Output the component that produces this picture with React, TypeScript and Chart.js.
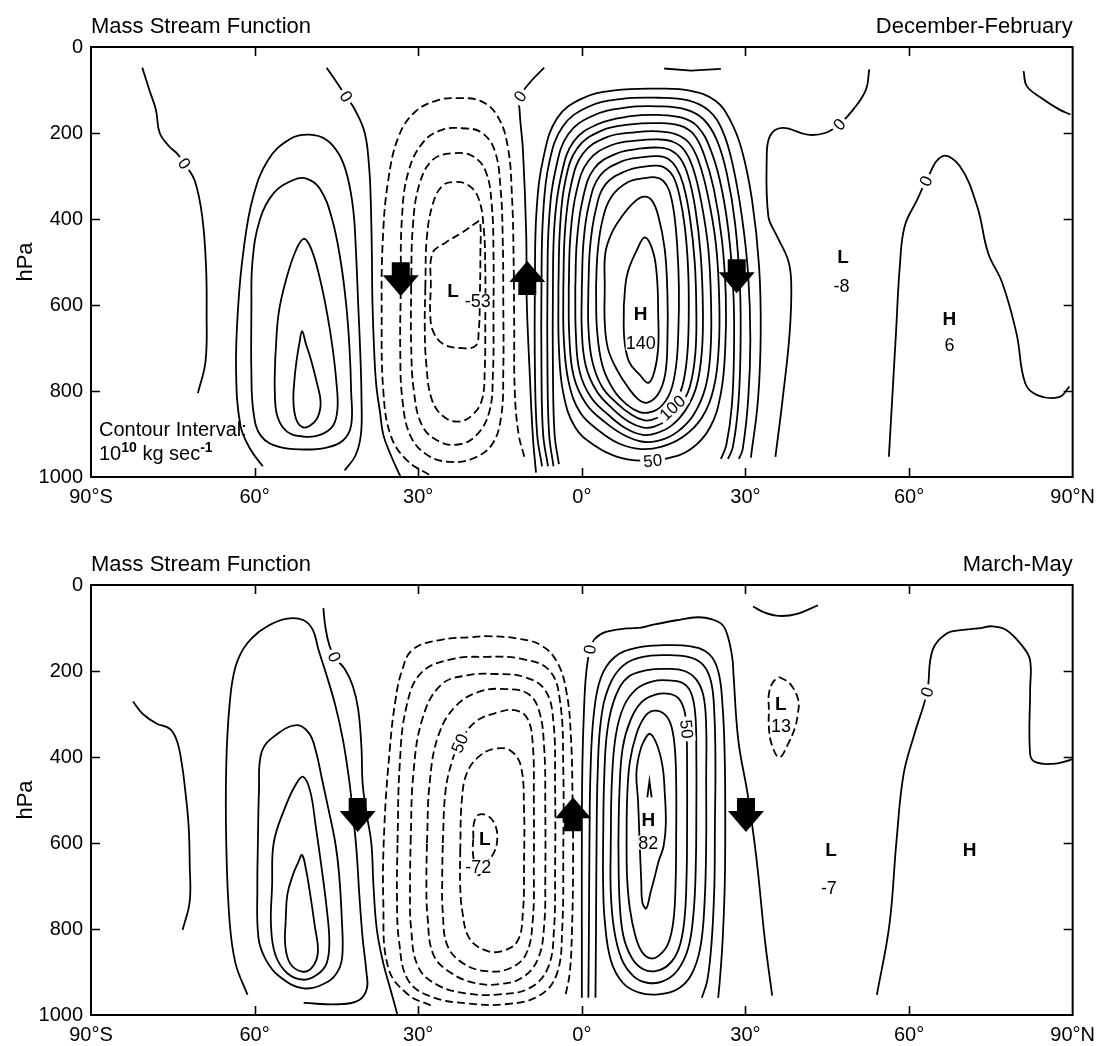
import React, { useEffect, useRef } from 'react';
import { Chart, registerables } from 'chart.js';
Chart.register(...registerables);

const FONT = '"Liberation Sans", Arial, Helvetica, sans-serif';

// ---------- axes ----------
const LAT_TICKS = [-90, -60, -30, 0, 30, 60, 90];
const LAT_TICK_LABELS = ['90°S', '60°', '30°', '0°', '30°', '60°', '90°N'];
const P_TICKS = [0, 200, 400, 600, 800, 1000];

// ---------- panel 1 : December-February ----------
const P1_TITLE = 'Mass Stream Function';
const P1_SEASON = 'December-February';

const P1_ZERO = [
  [[-80.6,48],[-79.3,100],[-78.1,146],[-77.4,200],[-75.6,232],[-74.2,248],[-72.9,271],[-71,310],[-69.6,395],[-68.9,513],[-68.8,620],[-69,731],[-70.4,805]],
  [[-46.8,48],[-44.8,85],[-43.2,115],[-41.6,146],[-39.8,200],[-39,280],[-38.7,360],[-38.5,480],[-38.4,590],[-38.1,700],[-37.7,785],[-37,850],[-36.4,902],[-35,950],[-33.3,998]],
  [[-6.9,48],[-9.2,78],[-11.3,115],[-11.4,150],[-10.8,240],[-10.2,434],[-10.1,590],[-9.6,746],[-9,902],[-8.4,990]],
  [[15.1,50],[20,55],[25.5,51]],
  [[52.7,52],[52.1,99],[49.8,145],[47.2,180],[44.6,200],[41.4,204],[36.8,188],[34.5,207],[33.9,262],[34.2,394],[35.5,433],[37.8,495],[38.4,549],[38.1,666],[36.8,821],[35.5,953]],
  [[56.3,953],[57.6,666],[58.3,511],[59.2,417],[61.5,355],[63.1,312],[66.1,254],[69.3,277],[72.5,371],[74.5,479],[77.1,549],[79.7,666],[81.3,782],[83.6,810],[87.5,814],[89.4,790]],
  [[81,56],[81.6,91],[84.2,118],[87.5,145],[89.6,157]],
];
const P1_ZERO_LEVELS = [0, 0, 0, 0, 0, 0, 0];
const P1_ZERO_CLOSED = [false, false, false, false, false, false, false];

const P1_SH = [
  [[-58.5,975],[-60.8,935],[-62.6,880],[-63.4,750],[-63,600],[-62,470],[-60.3,350],[-57.5,262],[-53.5,214],[-50,204],[-46.8,216],[-44.5,250],[-43,300],[-41.9,380],[-41.4,480],[-41,600],[-40.6,720],[-40.4,820],[-40.5,900],[-41.5,950],[-43.5,985]],
  [[-60.6,620],[-60.4,500],[-59,400],[-56.5,340],[-53,310],[-50.5,306],[-48,330],[-45.8,400],[-44.2,500],[-43.2,600],[-42.6,700],[-42.3,800],[-42.3,880],[-43.8,915],[-47,932],[-51,936],[-55.5,930],[-58.8,905],[-60.2,850],[-60.6,750]],
  [[-56.2,720],[-55.6,620],[-54.2,540],[-52.5,475],[-51,446],[-49.6,470],[-48,540],[-46.7,620],[-45.7,700],[-45,780],[-44.8,840],[-45.6,880],[-48,902],[-51,906],[-54,895],[-55.8,860],[-56.3,800]],
  [[-52.6,760],[-52.2,720],[-51.8,690],[-51.3,661],[-50.6,690],[-49.6,730],[-48.6,780],[-47.9,825],[-48.4,860],[-49.8,880],[-51.2,884],[-52.4,865],[-52.9,820]],
];
const P1_SH_LEVELS = [10, 20, 30, 40];
const P1_SH_CLOSED = [false, true, true, true];

const P1_NEG = [
  [[-28,995],[-32,962],[-35,905],[-36.4,800],[-36.7,620],[-36.5,450],[-35.5,310],[-33.5,205],[-30.5,150],[-26.5,124],[-22.5,119],[-18.5,126],[-15.5,160],[-13.6,230],[-12.8,350],[-12.5,500],[-12.4,650],[-12.3,800],[-11.6,900],[-10.5,955]],
  [[-33.2,560],[-33,400],[-31.8,290],[-29,220],[-25.5,192],[-22,189],[-18.5,198],[-16,240],[-14.9,330],[-14.5,450],[-14.4,600],[-14.4,750],[-14.8,860],[-16.5,925],[-20,957],[-24,965],[-28.2,950],[-31.4,905],[-32.9,820],[-33.3,700]],
  [[-31.3,560],[-31,420],[-29.8,320],[-27.3,262],[-23.5,247],[-20,254],[-17.6,290],[-16.5,370],[-16.2,480],[-16.2,620],[-16.3,760],[-17,850],[-19.5,905],[-23,925],[-26.5,915],[-29.3,880],[-30.8,800],[-31.3,690]],
  [[-28.7,560],[-28.4,440],[-27.2,360],[-25.5,322],[-23.5,314],[-21,320],[-19,350],[-18,420],[-17.7,520],[-17.7,640],[-17.8,750],[-18.3,820],[-20,855],[-22.5,871],[-25.3,860],[-27.5,820],[-28.5,740],[-28.8,650]],
  [[-27.7,560],[-27.4,480],[-25,455],[-22,432],[-19.5,410],[-18.7,405],[-18.6,480],[-18.7,580],[-18.9,660],[-19.5,695],[-22.3,700],[-25.5,690],[-27.3,660],[-27.8,620]],
];
const P1_NEG_LEVELS = [-10, -20, -30, -40, -50];
const P1_NEG_CLOSED = [false, true, true, true, true];

const P1_HAD = [
  [[-7.3,975],[-8.2,900],[-8.6,750],[-8.6,550],[-8.3,380],[-7,255],[-4.5,165],[0,120],[6,101],[14,97],[20,102],[24.5,125],[27.2,170],[29.3,238],[31.2,355],[32.5,510],[32.8,666],[32.3,821],[31,955]],
  [[-6.2,975],[-7.1,900],[-7.4,750],[-7.4,550],[-7.1,390],[-6,270],[-3.5,185],[1,140],[7,121],[14,118],[19.5,124],[23.3,148],[25.8,195],[27.6,270],[29.3,390],[30.5,530],[30.9,680],[30.5,820],[29.5,935],[28.8,958]],
  [[-5.2,975],[-6,900],[-6.3,750],[-6.3,550],[-6,400],[-4.8,285],[-2.5,203],[2,160],[8,141],[14,138],[19,145],[22.3,168],[24.7,215],[26.6,295],[28.1,410],[29,560],[29.1,700],[28.7,830],[27.7,930],[26.8,958]],
  [[-4.2,970],[-5,900],[-5.3,750],[-5.3,560],[-5,410],[-3.8,300],[-1.5,220],[3,179],[9,161],[14,158],[18.5,165],[21.3,186],[23.5,235],[25.4,315],[26.9,430],[27.8,575],[27.9,710],[27.5,835],[26.5,925],[25.5,958]],
  [[-4.3,560],[-4,420],[-3,310],[-0.8,235],[3.5,195],[9,180],[14,177],[18,183],[20.5,203],[22.4,250],[24.2,330],[25.7,450],[26.4,580],[26.3,700],[25.5,805],[23.5,885],[20,935],[15.5,957],[11,962],[6.5,953],[2.5,928],[-1.2,885],[-3.4,805],[-4.2,700]],
  [[-3.4,560],[-3.1,430],[-2,322],[0.2,248],[4.5,210],[10,198],[14,196],[17.3,203],[19.6,222],[21.4,265],[23.1,345],[24.6,460],[25.2,590],[25.1,700],[24.2,792],[22,862],[18.5,907],[14.5,930],[10.8,935],[6.8,922],[3.2,893],[-0.3,850],[-2.4,780],[-3.3,680]],
  [[-2.4,560],[-2.1,440],[-1,337],[1.2,265],[5.5,228],[10.5,217],[14,215],[16.8,221],[18.8,240],[20.4,282],[21.9,360],[23.2,470],[23.7,600],[23.6,705],[22.7,790],[20.5,855],[17.5,895],[14.3,915],[11.2,918],[7.8,903],[4.3,873],[0.8,830],[-1.5,765],[-2.3,670]],
  [[-1.2,560],[-0.9,450],[0.2,352],[2.3,282],[6.5,247],[11,236],[14,234],[16.3,240],[18.1,260],[19.5,300],[20.8,375],[21.8,485],[22.2,610],[22,710],[21,790],[19,845],[16.5,880],[13.7,898],[11.2,902],[8.2,888],[5,857],[1.7,815],[-0.4,755],[-1.1,665]],
  [[0,560],[0.3,455],[1.3,367],[3.3,300],[7.3,266],[11.3,256],[14,254],[15.8,260],[17.3,280],[18.6,320],[19.8,395],[20.7,500],[21,620],[20.8,715],[19.8,790],[18,837],[15.8,866],[13.3,883],[11.3,885],[8.7,872],[5.7,842],[2.7,800],[0.7,740],[0,660]],
  [[1.2,560],[1.5,467],[2.5,382],[4.3,320],[8,289],[11.5,278],[14,276],[15.5,283],[16.8,302],[17.9,345],[18.9,420],[19.5,520],[19.6,630],[19.3,720],[18.4,790],[16.8,832],[14.8,856],[12.8,867],[11.3,868],[9.2,856],[6.4,828],[3.7,790],[1.9,730],[1.2,650]],
  [[2.6,560],[2.9,477],[3.8,402],[5.5,347],[8.5,314],[11.5,305],[13.5,303],[14.9,311],[16,333],[16.9,385],[17.5,465],[17.8,560],[17.7,660],[17.3,740],[16.3,800],[14.6,835],[12.6,849],[10.6,849],[8.2,831],[5.8,797],[3.8,742],[2.8,660]],
  [[4.2,560],[4.3,480],[5.5,432],[7.3,395],[9.5,362],[11.3,348],[12.8,356],[14,392],[15.2,470],[15.7,577],[15.7,680],[15.3,760],[14,807],[12,827],[10.4,820],[8.5,792],[6.5,752],[4.8,702],[4.2,640]],
  [[7.7,600],[8.3,530],[10.1,472],[11.6,443],[13.1,478],[13.8,540],[14,620],[14,700],[13.3,755],[12.2,781],[10.6,762],[8.7,733],[7.8,680]],
];
const P1_HAD_LEVELS = [10, 20, 30, 40, 50, 60, 70, 80, 90, 100, 110, 120, 130];
const P1_HAD_CLOSED = [false, false, false, false, true, true, true, true, true, true, true, true, true];

const P1_CLABEL_TEXT = ['0', '0', '0', '0', '0', '50', '100'];
const P1_CLABEL_LAT = [-72.9, -43.2, -11.3, 47.2, 63.1, 13, 16.6];
const P1_CLABEL_P = [271, 115, 115, 180, 312, 962, 839];

const P1_MARK_TEXT = ['L', '-53', 'H', '140', 'L', '-8', 'H', '6'];
const P1_MARK_LAT = [-23.6, -19.1, 10.8, 10.8, 47.9, 47.6, 67.4, 67.4];
const P1_MARK_P = [567, 590, 620, 689, 487, 557, 631, 693];
const P1_MARK_BOLD = [true, false, true, false, true, false, true, false];

const P1_ARROW_LAT = [-33.2, -10, 28.4];
const P1_ARROW_P = [540, 537, 533];
const P1_ARROW_UP = [false, true, false];

// ---------- panel 2 : March-May ----------
const P2_TITLE = 'Mass Stream Function';
const P2_SEASON = 'March-May';

const P2_ZERO = [
  [[-82.3,271],[-80.5,300],[-78,322],[-75.5,335],[-74.2,364],[-73.3,420],[-72.7,480],[-72.1,560],[-71.9,650],[-71.9,736],[-73.2,802]],
  [[-47.4,54],[-47,100],[-46.3,140],[-45.4,167],[-43.5,195],[-42,235],[-41,290],[-40.4,380],[-40.2,460],[-39.5,530],[-38.6,600],[-38.2,700],[-37.6,800],[-36.4,880],[-35.1,940],[-33.8,1000]],
  [[0,960],[0,800],[0,600],[0.1,420],[0.4,290],[0.8,205],[1.5,150],[2.4,125],[4.4,109],[8.3,101],[10.9,99],[12.9,93],[17.4,82],[21.3,75],[23.9,80],[25.8,93],[26.8,121],[27.6,170],[27.8,206],[28.7,362],[30.4,486],[32,634],[33.6,829],[34.9,955]],
  [[31.4,50],[33.5,64],[36.2,72],[39.5,67],[43.3,47]],
  [[54.1,953],[56.4,790],[57.7,595],[59,440],[61,346],[63.3,249],[64.3,152],[66.9,113],[69.5,105],[72.7,101],[75.3,96],[77.9,105],[80.9,144],[82.2,175],[82.2,245],[82.2,393],[83.2,412],[86.4,416],[89,409],[89.9,405]],
];
const P2_ZERO_LEVELS = [0, 0, 0, 0, 0];
const P2_ZERO_CLOSED = [false, false, false, false, false];

const P2_SH = [
  [[-61.3,953],[-63.5,880],[-64.6,780],[-65.2,600],[-65.2,420],[-64.6,280],[-63.5,190],[-61.3,135],[-57.5,95],[-54,78],[-51,82],[-49.3,105],[-48.3,150],[-46.8,210],[-45.2,280],[-43.8,360],[-42.7,450],[-41.9,540],[-41.3,620],[-40.8,720],[-40.2,820],[-39.5,900],[-39.4,938],[-40.8,965],[-44.5,975],[-51,972]],
  [[-59.4,600],[-59.2,480],[-58.7,388],[-56.1,349],[-52.3,326],[-50,345],[-48.8,385],[-47.5,460],[-46.5,519],[-45.2,600],[-44.5,674],[-44,780],[-43.9,860],[-44.6,895],[-46.5,922],[-51,938],[-55.5,910],[-58,870],[-59.3,820],[-59.5,700]],
  [[-56.8,700],[-56.5,600],[-54.5,520],[-52.5,465],[-51.1,446],[-49.8,480],[-48.8,560],[-47.8,650],[-46.8,750],[-46.3,830],[-46.8,880],[-48.5,906],[-51,918],[-54,903],[-56.2,860],[-57,790]],
  [[-54.3,780],[-54,720],[-53,675],[-52,645],[-51.3,628],[-50.6,660],[-49.8,720],[-49,790],[-48.4,855],[-49.5,890],[-51.3,899],[-53.5,880],[-54.4,835]],
];
const P2_SH_LEVELS = [10, 20, 30, 40];
const P2_SH_CLOSED = [false, true, true, true];

const P2_NEG = [
  [[-27.7,978],[-31.9,952],[-35.5,890],[-36.4,737],[-36.2,560],[-35.2,380],[-34.2,270],[-33,200],[-31,150],[-26,128],[-20,121],[-17.5,119],[-12,124],[-7.5,140],[-4.5,180],[-2.8,250],[-2,353],[-1.7,500],[-1.6,650],[-1.8,800],[-2.2,900],[-3,955]],
  [[-33.8,600],[-33.4,420],[-32.2,285],[-29.5,205],[-24,173],[-17.5,167],[-11,172],[-6,198],[-4,270],[-3.4,430],[-3.4,620],[-3.6,800],[-4.6,905],[-7.8,955],[-14,975],[-21,973],[-27.5,958],[-31.8,920],[-33.5,830],[-33.9,720]],
  [[-31.4,600],[-30.9,440],[-29.2,310],[-25.8,232],[-21,210],[-15.7,207],[-10.5,214],[-6.7,245],[-5.2,320],[-4.9,470],[-4.9,660],[-5.1,800],[-6.2,890],[-9.5,937],[-15,952],[-21,950],[-26.5,930],[-30,888],[-31.3,800],[-31.5,700]],
  [[-28.4,600],[-27.9,460],[-26.3,350],[-23,280],[-18.5,247],[-14,242],[-10,252],[-7.9,290],[-6.9,380],[-6.7,520],[-6.7,680],[-6.9,790],[-8,868],[-10.8,912],[-15,928],[-19.5,926],[-24,902],[-27.2,860],[-28.3,770],[-28.5,690]],
  [[-25.5,600],[-25,480],[-23.8,410],[-22.4,368],[-19.5,318],[-15.5,297],[-12.3,291],[-10,310],[-9,370],[-8.8,500],[-8.8,650],[-9,780],[-10.3,860],[-13.5,893],[-17.5,898],[-21.5,882],[-24.6,840],[-25.5,760],[-25.6,680]],
  [[-22.3,620],[-22,500],[-21,435],[-18.5,395],[-15.5,380],[-13,386],[-11.2,420],[-10.6,520],[-10.6,650],[-10.8,760],[-11.8,828],[-14.8,852],[-18,848],[-20.7,820],[-21.9,760],[-22.3,700]],
  [[-19.9,590],[-19.8,555],[-19,535],[-17.2,537],[-15.9,558],[-15.5,590],[-16.1,622],[-17.6,648],[-18.9,675],[-19.6,650],[-20,620]],
  [[36.2,214],[38.2,230],[39.7,268],[39.6,300],[39.1,331],[37.8,370],[36.2,401],[34.8,370],[34.3,331],[34.3,290],[34.3,253],[35.1,225]],
];
const P2_NEG_LEVELS = [-10, -20, -30, -40, -50, -60, -70, -10];
const P2_NEG_CLOSED = [false, true, true, true, true, true, true, true];

const P2_HAD = [
  [[1.2,960],[1.3,800],[1.4,600],[1.6,430],[2.2,300],[3.5,215],[6,168],[10,146],[15,140],[20,143],[23.3,160],[25,200],[25.8,280],[26.2,400],[26.3,560],[26.2,700],[25.8,830],[25.3,920],[25,960]],
  [[2.5,960],[2.6,800],[2.7,600],[2.9,440],[3.5,315],[5,235],[7.5,188],[11,168],[15,163],[19.5,167],[22.2,185],[23.7,225],[24.3,300],[24.5,420],[24.4,560],[24.3,700],[23.8,830],[23,920],[22,960]],
  [[3.9,600],[4.1,450],[4.7,335],[6.2,258],[8.5,214],[12,198],[15.5,195],[18.8,200],[21,220],[22.3,258],[22.8,330],[22.8,450],[22.8,600],[22.5,740],[21.7,845],[20,908],[17.5,940],[14,952],[10.5,948],[7.5,925],[5.3,872],[4.2,780],[3.9,690]],
  [[5.3,600],[5.5,460],[6.2,352],[7.7,282],[10,242],[13,224],[16,222],[18.5,228],[20,250],[20.8,300],[21,400],[21,520],[20.9,650],[20.5,760],[19.5,845],[17.5,897],[14.8,922],[12,925],[9.5,910],[7.3,870],[5.9,800],[5.3,710]],
  [[6.7,600],[6.9,480],[7.5,378],[9,312],[11,272],[13.5,255],[16,253],[17.7,263],[18.8,292],[19.2,340],[19.3,440],[19.3,560],[19.2,680],[18.8,780],[17.8,845],[16,882],[13.5,898],[11.2,893],[9.2,868],[7.6,815],[6.9,730]],
  [[8.2,600],[8.3,500],[8.8,412],[10,347],[11.5,307],[13,293],[14.8,297],[16.2,320],[17,372],[17.3,460],[17.3,580],[17.2,690],[16.8,780],[15.8,835],[14,863],[12.5,868],[11,853],[9.8,815],[8.8,752],[8.3,680]],
  [[10.6,600],[10.3,500],[10,440],[10.5,395],[11.3,365],[12.5,346],[13.8,372],[14.8,422],[15.2,482],[15.4,556],[15,607],[14.1,642],[13.3,682],[12.6,715],[11.8,752],[11.1,738],[10.9,690]],
  [[12.0,494],[12.4,456],[12.8,494]],
];
const P2_HAD_LEVELS = [10, 20, 30, 40, 50, 60, 70, 80];
const P2_HAD_CLOSED = [false, false, true, true, true, true, true, false];

const P2_CLABEL_TEXT = ['0', '0', '0', '50', '50'];
const P2_CLABEL_LAT = [-45.4, 1.5, 63.3, -22.4, 19.2];
const P2_CLABEL_P = [167, 150, 249, 368, 335];

const P2_MARK_TEXT = ['L', '-72', 'H', '82', 'L', '13', 'L', '-7', 'H'];
const P2_MARK_LAT = [-17.8, -19, 12.2, 12.2, 36.5, 36.5, 45.7, 45.3, 71.1];
const P2_MARK_P = [591, 656, 545, 599, 276, 327, 615, 704, 615];
const P2_MARK_BOLD = [true, false, true, false, true, false, true, false, true];

const P2_ARROW_LAT = [-41.1, -1.6, 30.1];
const P2_ARROW_P = [535, 533, 535];
const P2_ARROW_UP = [false, true, false];

const NOTE_LINE1 = 'Contour Interval:';
const NOTE_BASE = '10';
const NOTE_EXP = '10';
const NOTE_UNIT = ' kg sec';
const NOTE_UNIT_EXP = '-1';

// ---------- helpers ----------
type Group = { contours: number[][][]; levels: number[]; closed: boolean[] };

function makeDatasets(groups: Group[]) {
  const out: any[] = [];
  groups.forEach((g) => {
    g.contours.forEach((c, i) => {
      const pts = g.closed[i] ? [...c, c[0]] : c;
      out.push({
        data: pts.map(([x, y]) => ({ x, y })),
        showLine: true,
        borderColor: '#000',
        borderWidth: 1.8,
        borderDash: g.levels[i] < 0 ? [8, 4] : [],
        pointRadius: 0,
        pointHoverRadius: 0,
        pointHitRadius: 0,
        tension: pts.length > 3 ? 0.4 : 0,
        fill: false,
      });
    });
  });
  return out;
}

function nearestAngle(chart: any, px: number, py: number) {
  const { x, y } = chart.scales;
  let best = Infinity;
  let ang = 0;
  chart.data.datasets.forEach((ds: any) => {
    const d = ds.data;
    for (let i = 0; i < d.length - 1; i++) {
      const x1 = x.getPixelForValue(d[i].x), y1 = y.getPixelForValue(d[i].y);
      const x2 = x.getPixelForValue(d[i + 1].x), y2 = y.getPixelForValue(d[i + 1].y);
      const dx = x2 - x1, dy = y2 - y1;
      const l2 = dx * dx + dy * dy || 1;
      let t = ((px - x1) * dx + (py - y1) * dy) / l2;
      t = Math.max(0, Math.min(1, t));
      const qx = x1 + t * dx - px, qy = y1 + t * dy - py;
      const dist = qx * qx + qy * qy;
      if (dist < best) { best = dist; ang = Math.atan2(dy, dx); }
    }
  });
  if (ang > Math.PI / 2) ang -= Math.PI;
  if (ang < -Math.PI / 2) ang += Math.PI;
  return ang;
}

function drawArrow(ctx: CanvasRenderingContext2D, cx: number, cy: number, up: boolean) {
  ctx.save();
  ctx.translate(cx, cy);
  if (!up) ctx.scale(1, -1);
  ctx.beginPath();
  ctx.moveTo(0, -17);
  ctx.lineTo(18, 4);
  ctx.lineTo(9, 4);
  ctx.lineTo(9, 17);
  ctx.lineTo(-9, 17);
  ctx.lineTo(-9, 4);
  ctx.lineTo(-18, 4);
  ctx.closePath();
  ctx.fillStyle = '#000';
  ctx.fill();
  ctx.restore();
}

type Panel = {
  title: string; season: string; groups: Group[];
  clText: string[]; clLat: number[]; clP: number[];
  mText: string[]; mLat: number[]; mP: number[]; mBold: boolean[];
  aLat: number[]; aP: number[]; aUp: boolean[]; note: boolean;
};

function decorPlugin(panel: Panel) {
  return {
    id: 'decor',
    afterDatasetsDraw(chart: any) {
      const ctx: CanvasRenderingContext2D = chart.ctx;
      const a = chart.chartArea;
      const { x, y } = chart.scales;
      ctx.save();
      // contour labels
      panel.clText.forEach((t, i) => {
        const px = x.getPixelForValue(panel.clLat[i]);
        const py = y.getPixelForValue(panel.clP[i]);
        const ang = nearestAngle(chart, px, py);
        ctx.save();
        ctx.translate(px, py);
        ctx.rotate(ang);
        ctx.font = `17px ${FONT}`;
        const w = ctx.measureText(t).width;
        ctx.fillStyle = '#fff';
        ctx.fillRect(-w / 2 - 3, -8, w + 6, 16);
        ctx.fillStyle = '#000';
        ctx.textAlign = 'center';
        ctx.textBaseline = 'middle';
        ctx.fillText(t, 0, 1);
        ctx.restore();
      });
      // H / L marks
      panel.mText.forEach((t, i) => {
        const px = x.getPixelForValue(panel.mLat[i]);
        const py = y.getPixelForValue(panel.mP[i]);
        ctx.font = panel.mBold[i] ? `bold 19px ${FONT}` : `18px ${FONT}`;
        ctx.textAlign = 'center';
        ctx.textBaseline = 'middle';
        if (!panel.mBold[i]) {
          const w = ctx.measureText(t).width;
          ctx.fillStyle = '#fff';
          ctx.fillRect(px - w / 2, py - 7, w, 14);
        }
        ctx.fillStyle = '#000';
        ctx.fillText(t, px, py + 1);
      });
      // arrows
      panel.aLat.forEach((lat, i) => {
        drawArrow(ctx, x.getPixelForValue(lat), y.getPixelForValue(panel.aP[i]), panel.aUp[i]);
      });
      // frame and inward ticks
      ctx.strokeStyle = '#000';
      ctx.lineWidth = 2;
      ctx.strokeRect(a.left, a.top, a.right - a.left, a.bottom - a.top);
      ctx.lineWidth = 1.6;
      ctx.beginPath();
      LAT_TICKS.slice(1, -1).forEach((v) => {
        const px = Math.round(x.getPixelForValue(v)) + 0.5;
        ctx.moveTo(px, a.bottom); ctx.lineTo(px, a.bottom - 9);
        ctx.moveTo(px, a.top); ctx.lineTo(px, a.top + 9);
      });
      P_TICKS.slice(1, -1).forEach((v) => {
        const py = Math.round(y.getPixelForValue(v)) + 0.5;
        ctx.moveTo(a.left, py); ctx.lineTo(a.left + 9, py);
        ctx.moveTo(a.right, py); ctx.lineTo(a.right - 9, py);
      });
      ctx.stroke();
      // titles
      ctx.fillStyle = '#000';
      ctx.font = `22px ${FONT}`;
      ctx.textBaseline = 'alphabetic';
      ctx.textAlign = 'left';
      ctx.fillText(panel.title, a.left, a.top - 14);
      ctx.textAlign = 'right';
      ctx.fillText(panel.season, a.right, a.top - 14);
      // hPa
      ctx.save();
      ctx.translate(26, (a.top + a.bottom) / 2);
      ctx.rotate(-Math.PI / 2);
      ctx.textAlign = 'center';
      ctx.textBaseline = 'middle';
      ctx.font = `22px ${FONT}`;
      ctx.fillText('hPa', 0, 0);
      ctx.restore();
      // note
      if (panel.note) {
        const x0 = a.left + 8;
        const b1 = a.bottom - 41;
        const b2 = a.bottom - 17;
        ctx.textAlign = 'left';
        ctx.textBaseline = 'alphabetic';
        ctx.font = `20px ${FONT}`;
        ctx.fillText(NOTE_LINE1, x0, b1);
        let cx = x0;
        ctx.fillText(NOTE_BASE, cx, b2);
        cx += ctx.measureText(NOTE_BASE).width;
        ctx.font = `bold 14px ${FONT}`;
        ctx.fillText(NOTE_EXP, cx, b2 - 8);
        cx += ctx.measureText(NOTE_EXP).width;
        ctx.font = `20px ${FONT}`;
        ctx.fillText(NOTE_UNIT, cx, b2);
        cx += ctx.measureText(NOTE_UNIT).width;
        ctx.font = `bold 14px ${FONT}`;
        ctx.fillText(NOTE_UNIT_EXP, cx, b2 - 8);
      }
      ctx.restore();
    },
  };
}

function PanelChart({ panel, height, padBottom }: { panel: Panel; height: number; padBottom: number }) {
  const ref = useRef<HTMLCanvasElement>(null);
  useEffect(() => {
    const chart = new Chart(ref.current as HTMLCanvasElement, {
      type: 'scatter',
      data: { datasets: makeDatasets(panel.groups) },
      options: {
        responsive: false,
        animation: false,
        devicePixelRatio: 1,
        events: [],
        layout: { padding: { left: 0, right: 20, top: 47, bottom: padBottom }, autoPadding: false },
        plugins: { legend: { display: false }, tooltip: { enabled: false }, title: { display: false } },
        scales: {
          x: {
            type: 'linear', min: -90, max: 90,
            afterBuildTicks: (s: any) => { s.ticks = LAT_TICKS.map((v) => ({ value: v })); },
            ticks: {
              autoSkip: false, maxRotation: 0, minRotation: 0, padding: 8, color: '#000',
              font: { family: FONT, size: 20 },
              callback: (v: any) => { const i = LAT_TICKS.indexOf(Number(v)); return i >= 0 ? LAT_TICK_LABELS[i] : ''; },
            },
            grid: { display: false, drawTicks: false },
            border: { display: false },
            afterFit: (s: any) => { s.height = 31; },
          },
          y: {
            type: 'linear', min: 0, max: 1000, reverse: true,
            afterBuildTicks: (s: any) => { s.ticks = P_TICKS.map((v) => ({ value: v })); },
            ticks: { padding: 8, color: '#000', font: { family: FONT, size: 20 }, callback: (v: any) => String(v) },
            grid: { display: false, drawTicks: false },
            border: { display: false },
            afterFit: (s: any) => { s.width = 91; },
          },
        },
      } as any,
      plugins: [decorPlugin(panel)],
    });
    return () => chart.destroy();
  }, []);
  return <canvas ref={ref} width={1103} height={height} style={{ display: 'block', width: 1103, height }} />;
}

const PANEL1: Panel = {
  title: P1_TITLE, season: P1_SEASON,
  groups: [
    { contours: P1_ZERO, levels: P1_ZERO_LEVELS, closed: P1_ZERO_CLOSED },
    { contours: P1_SH, levels: P1_SH_LEVELS, closed: P1_SH_CLOSED },
    { contours: P1_NEG, levels: P1_NEG_LEVELS, closed: P1_NEG_CLOSED },
    { contours: P1_HAD, levels: P1_HAD_LEVELS, closed: P1_HAD_CLOSED },
  ],
  clText: P1_CLABEL_TEXT, clLat: P1_CLABEL_LAT, clP: P1_CLABEL_P,
  mText: P1_MARK_TEXT, mLat: P1_MARK_LAT, mP: P1_MARK_P, mBold: P1_MARK_BOLD,
  aLat: P1_ARROW_LAT, aP: P1_ARROW_P, aUp: P1_ARROW_UP, note: true,
};

const PANEL2: Panel = {
  title: P2_TITLE, season: P2_SEASON,
  groups: [
    { contours: P2_ZERO, levels: P2_ZERO_LEVELS, closed: P2_ZERO_CLOSED },
    { contours: P2_SH, levels: P2_SH_LEVELS, closed: P2_SH_CLOSED },
    { contours: P2_NEG, levels: P2_NEG_LEVELS, closed: P2_NEG_CLOSED },
    { contours: P2_HAD, levels: P2_HAD_LEVELS, closed: P2_HAD_CLOSED },
  ],
  clText: P2_CLABEL_TEXT, clLat: P2_CLABEL_LAT, clP: P2_CLABEL_P,
  mText: P2_MARK_TEXT, mLat: P2_MARK_LAT, mP: P2_MARK_P, mBold: P2_MARK_BOLD,
  aLat: P2_ARROW_LAT, aP: P2_ARROW_P, aUp: P2_ARROW_UP, note: false,
};

export default function App() {
  return (
    <div style={{ position: 'absolute', left: 0, top: 0, width: 1103, height: 1046, overflow: 'hidden', background: '#fff' }}>
      <div style={{ position: 'absolute', left: 0, top: 0 }}>
        <PanelChart panel={PANEL1} height={520} padBottom={12} />
      </div>
      <div style={{ position: 'absolute', left: 0, top: 538 }}>
        <PanelChart panel={PANEL2} height={508} padBottom={0} />
      </div>
    </div>
  );
}
